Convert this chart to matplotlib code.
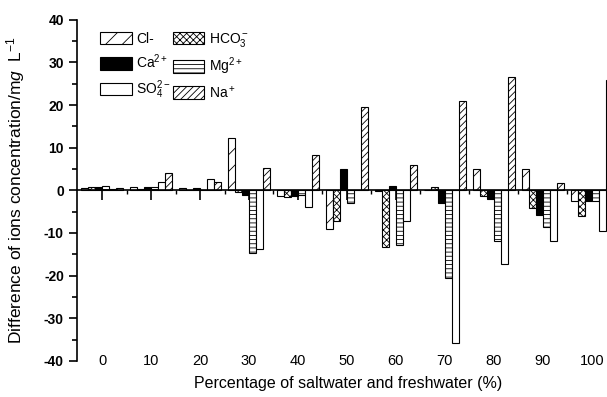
import matplotlib
matplotlib.use('Agg')
import matplotlib.pyplot as plt
from matplotlib.ticker import MultipleLocator, FixedLocator
import numpy as np

plt.rcParams['font.family'] = ['Liberation Sans', 'DejaVu Sans']
plt.rcParams['mathtext.fontset'] = 'custom'
plt.rcParams['mathtext.rm'] = 'Liberation Sans'
plt.rcParams['mathtext.it'] = 'Liberation Sans:italic'
plt.rcParams['mathtext.bf'] = 'Liberation Sans:bold'
plt.rcParams['axes.unicode_minus'] = False
plt.rcParams['hatch.linewidth'] = 0.6

# mixing percentage groups
groups = ['0', '10', '20', '30', '40', '50', '60', '70', '80', '90', '100']

# difference of ion concentration (mg/L) per group
cl = [0.5, 0.9, 0.5, 12.4, -1.3, -9.0, -0.1, 0.0, 5.0, 5.1, -2.6]
hco3 = [0.7, 0.3, 0.2, -0.5, -1.6, -7.1, -13.2, 0.8, -1.4, -4.2, -6.1]
ca = [0.7, 0.8, 0.6, -1.0, -1.3, 4.9, 1.0, -3.0, -2.0, -5.7, -2.6]
mg = [1.0, 0.7, 0.1, -14.7, -1.2, -3.0, -12.9, -20.6, -11.8, -8.5, -2.6]
so4 = [0.3, 2.0, 2.6, -13.7, -3.8, 0.2, -7.3, -35.9, -17.3, -11.8, -9.6]
na = [0.5, 4.1, 2.0, 5.3, 8.4, 19.6, 6.0, 20.9, 26.7, 1.7, 26.0]

series = [
    (cl, 'Cl-', 'white', '//'),
    (hco3, 'HCO$_3^-$', 'white', 'xxxxx'),
    (ca, 'Ca$^{2+}$', 'black', ''),
    (mg, 'Mg$^{2+}$', 'white', '----'),
    (so4, 'SO$_4^{2-}$', 'white', ''),
    (na, 'Na$^+$', 'white', '/////'),
]

fig = plt.figure(figsize=(6.07, 3.97), dpi=100)
ax = fig.add_axes([0.127, 0.091, 0.873, 0.859])

x = np.arange(len(groups))
w = 0.142
handles = []
for j, (vals, lab, fc, hatch) in enumerate(series):
    b = ax.bar(x + (j - 3) * w, vals, w, color=fc, edgecolor='black',
               linewidth=0.8, hatch=hatch, label=lab, align='edge')
    handles.append(b)

ax.set_xlim(-0.51, 10.31)
ax.set_ylim(-40, 40)

ax.spines['top'].set_visible(False)
ax.spines['right'].set_visible(False)
ax.spines['bottom'].set_position(('data', 0))
ax.spines['left'].set_linewidth(1.2)
ax.spines['bottom'].set_linewidth(1.2)

ax.yaxis.set_major_locator(MultipleLocator(10))
ax.yaxis.set_minor_locator(MultipleLocator(5))
ax.tick_params(axis='y', which='major', length=6, width=1.2, direction='out', labelsize=10)
ax.tick_params(axis='y', which='minor', length=3.5, width=1.2, direction='out')
for t in ax.get_yticklabels():
    t.set_fontweight('bold')

ax.xaxis.set_major_locator(FixedLocator(x))
ax.xaxis.set_minor_locator(FixedLocator(x[:-1] + 0.5))
ax.set_xticklabels([])
ax.tick_params(axis='x', which='major', length=7, width=1.2, direction='out')
ax.tick_params(axis='x', which='minor', length=3, width=1.0, direction='out')

for xi, g in zip(x, groups):
    ax.text(xi, -40, g, ha='center', va='center', fontsize=10.5)

ax.set_ylabel('Difference of ions concentration/m$\\it{g}$  L$^{-1}$', fontsize=12.5)
ax.yaxis.set_label_coords(-0.094, 0.5)
fig.text(0.573, 0.033, 'Percentage of saltwater and freshwater (%)',
         ha='center', va='center', fontsize=11.5)

# legend filled row by row: Cl/HCO3, Ca/Mg, SO4/Na
order = [0, 2, 4, 1, 3, 5]
ax.legend([handles[i] for i in order], [series[i][1] for i in order],
          loc='upper left', bbox_to_anchor=(0.043, 0.968), ncol=2,
          frameon=False, fontsize=10, handlelength=2.3, handleheight=1.0,
          handletextpad=0.3, columnspacing=0.15, labelspacing=0.5,
          borderaxespad=0, borderpad=0)

fig.savefig('out.png', dpi=100)
